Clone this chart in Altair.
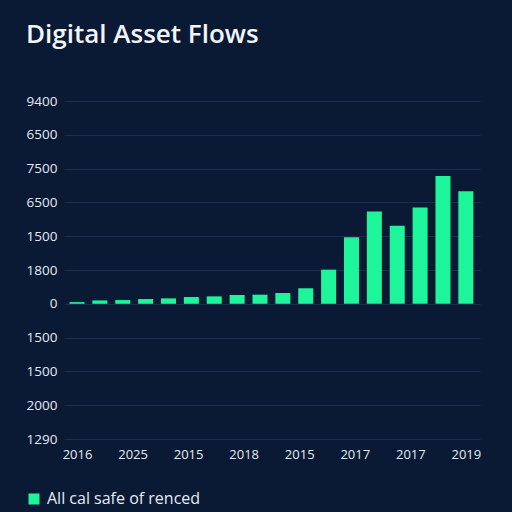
import altair as alt
import pandas as pd
import numpy as np

# Flow values per period (chart units), one bar each
flows = [50, 100, 110, 140, 160, 200, 220, 260, 270, 320,
         460, 1010, 1970, 2730, 2310, 2850, 3780, 3330]
series_name = "All cal safe of renced"

# Axis tick labels
y_tick_values = [6000, 5000, 4000, 3000, 2000, 1000, 0, -1000, -2000, -3000, -4000]
y_tick_labels = ["9400", "6500", "7500", "6500", "1500", "1800", "0",
                 "1500", "1500", "2000", "1290"]
x_tick_labels = ["2016", "2025", "2015", "2018", "2015", "2017", "2017", "2019"]

n = len(flows)
df = pd.DataFrame({"idx": list(range(n)), "flow": flows, "series": [series_name] * n})

x_ticks = list(np.linspace(0, n - 1, len(x_tick_labels)))

y_label_expr = "{" + ",".join(f"'{v}':'{l}'" for v, l in zip(y_tick_values, y_tick_labels)) + "}[datum.value]"
x_label_expr = "[" + ",".join(f"'{l}'" for l in x_tick_labels) + f"][round(datum.value*{len(x_tick_labels)-1}/{n-1})]"

bg = "#0a1a35"
green = "#1ef59a"
text_col = "#e4eaf3"

chart = alt.Chart(df).mark_bar(width=15).encode(
    x=alt.X("idx:Q",
            scale=alt.Scale(domain=[-0.35, n - 0.6], nice=False, zero=False),
            axis=alt.Axis(values=x_ticks, labelExpr=x_label_expr, title=None,
                          grid=False, domain=False, ticks=False,
                          labelFontSize=13, labelColor=text_col, labelPadding=9,
                          labelFont="Open Sans")),
    y=alt.Y("flow:Q",
            scale=alt.Scale(domain=[-4000, 6000], nice=False, zero=False),
            axis=alt.Axis(values=y_tick_values, labelExpr=y_label_expr, title=None,
                          grid=True, gridColor="#1d2d4b", gridWidth=1,
                          domain=False, ticks=False,
                          labelFontSize=13.5, labelColor=text_col, labelPadding=7,
                          labelFont="Open Sans")),
    y2=alt.datum(0),
    color=alt.Color("series:N",
                    scale=alt.Scale(range=[green]),
                    legend=alt.Legend(title=None, orient="none", legendX=-38, legendY=390,
                                      symbolType="square", symbolSize=121,
                                      symbolStrokeWidth=0, symbolOpacity=1,
                                      labelFontSize=16, labelColor=text_col,
                                      labelLimit=400, labelOffset=5,
                                      labelFont="Open Sans")),
).properties(
    width=416,
    height=338,
    background=bg,
    autosize=alt.AutoSizeParams(type="none"),
    padding={"left": 64, "top": 101, "right": 32, "bottom": 73},
    title=alt.TitleParams("Digital Asset Flows", anchor="start", fontSize=26,
                          fontWeight=600, color="#f2f5fa", font="Open Sans",
                          offset=46, dx=0),
).configure_view(stroke=None)

chart.save("out.html", embed_options={"renderer": "svg", "actions": False})
